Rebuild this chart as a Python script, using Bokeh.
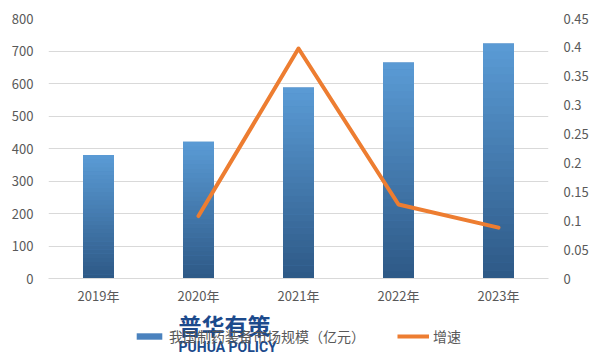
from bokeh.plotting import figure
from bokeh.layouts import column
from bokeh.models import (FactorRange, Range1d, LinearAxis, FixedTicker, CustomJSTickFormatter,
                          Legend, LegendItem, Label)
from bokeh.embed import file_html
from bokeh.resources import INLINE

years = ["2019年", "2020年", "2021年", "2022年", "2023年"]
market_size = [380, 421, 588, 665, 723]          # 我国制药装备市场规模（亿元）
growth = [None, 0.108, 0.398, 0.128, 0.088]      # 增速
left_ticks = [0, 100, 200, 300, 400, 500, 600, 700, 800]
right_ticks = [0, 0.05, 0.1, 0.15, 0.2, 0.25, 0.3, 0.35, 0.4, 0.45]
bar_label = "我国制药装备市场规模（亿元）"
line_label = "增速"

TEXT = "#595959"
GRID = "#D9D9D9"
FONT = "Noto Sans CJK SC"
BAR_MID = "#4A82BE"
ORANGE = "#ED7D31"

p = figure(x_range=FactorRange(*years, range_padding=0), y_range=Range1d(0, 800),
           width=600, height=307, output_backend="svg", toolbar_location=None,
           min_border_left=48, min_border_right=52, min_border_top=18, min_border_bottom=26)
p.outline_line_color = None
p.extra_y_ranges = {"g": Range1d(0, 0.45)}

# main bars
bars = p.vbar(x=years, top=market_size, width=0.31, fill_color=BAR_MID, line_color=None)

# vertical gradient overlay (light top -> dark bottom), built per bar from the data
N = 30
top_rgb = (91, 156, 214)
bot_rgb = (46, 89, 134)
gx, gb, gt, gc = [], [], [], []
for yr, v in zip(years, market_size):
    for k in range(N):
        f0, f1 = k / N, (k + 1) / N
        t = (f0 + f1) / 2
        r = int(bot_rgb[0] + (top_rgb[0] - bot_rgb[0]) * t)
        g = int(bot_rgb[1] + (top_rgb[1] - bot_rgb[1]) * t)
        b = int(bot_rgb[2] + (top_rgb[2] - bot_rgb[2]) * t)
        gx.append(yr); gb.append(v * f0); gt.append(min(v, v * f1 + v * 0.002))
        gc.append("#%02x%02x%02x" % (r, g, b))
p.vbar(x=gx, bottom=gb, top=gt, width=0.31, fill_color=gc, line_color=None)

# growth line
lx = [y for y, g in zip(years, growth) if g is not None]
ly = [g for g in growth if g is not None]
line = p.line(lx, ly, y_range_name="g", line_color=ORANGE, line_width=4,
              line_join="round", line_cap="round")

# axes
def style_axis(ax, standoff):
    ax.major_tick_line_color = None
    ax.minor_tick_line_color = None
    ax.major_tick_out = 0
    ax.major_tick_in = 0
    ax.minor_tick_out = 0
    ax.minor_tick_in = 0
    ax.major_label_text_color = TEXT
    ax.major_label_text_font = FONT
    ax.major_label_text_font_size = "13px"
    ax.major_label_standoff = standoff

p.yaxis.ticker = FixedTicker(ticks=left_ticks)
style_axis(p.yaxis[0], 15)
style_axis(p.xaxis[0], 7)
p.yaxis.axis_line_color = None
p.xaxis.axis_line_color = GRID

ra = LinearAxis(y_range_name="g", ticker=FixedTicker(ticks=right_ticks),
                formatter=CustomJSTickFormatter(code="return String(Math.round(tick*100)/100);"))
style_axis(ra, 15)
ra.axis_line_color = None
p.add_layout(ra, "right")

p.xgrid.grid_line_color = None
p.ygrid.grid_line_color = GRID
p.ygrid.grid_line_width = 1

# bottom strip: legend + watermark (its frame is aligned with the main frame)
p2 = figure(width=600, height=54, x_range=Range1d(0, 1), y_range=Range1d(0, 1),
            output_backend="svg", toolbar_location=None,
            min_border_left=0, min_border_right=0, min_border_top=0, min_border_bottom=0)
p2.axis.visible = False
p2.grid.visible = False
p2.outline_line_color = None
lb = p2.vbar(x=list(range(len(years))), top=market_size, width=0.31,
             fill_color=BAR_MID, line_color=None, visible=False)
ll = p2.line(list(range(len(lx))), ly, line_color=ORANGE, line_width=4, visible=False)

legend = Legend(items=[LegendItem(label=bar_label, renderers=[lb]),
                       LegendItem(label=line_label, renderers=[ll])],
                orientation="horizontal", location=(85, 15),
                label_text_font=FONT, label_text_font_size="14px", label_text_color=TEXT,
                glyph_width=32, glyph_height=8, label_standoff=4, spacing=32,
                border_line_color=None, background_fill_alpha=0, padding=2, margin=0,
                inactive_fill_alpha=0)
p2.add_layout(legend)

wm1 = Label(x=130, y=37, x_units="screen", y_units="screen", text="普华有策",
            text_font=FONT, text_font_size="23px", text_font_style="bold",
            text_color="#1C4A8C", text_baseline="middle")
wm2 = Label(x=130, y=15, x_units="screen", y_units="screen", text="PUHUA POLICY",
            text_font="Roboto", text_font_size="14px", text_font_style="bold",
            text_color="#1C4A8C", text_baseline="middle")
p2.add_layout(wm1)
p2.add_layout(wm2)

layout = column(p, p2, spacing=0)
open("out.html", "w").write(file_html(layout, INLINE))
